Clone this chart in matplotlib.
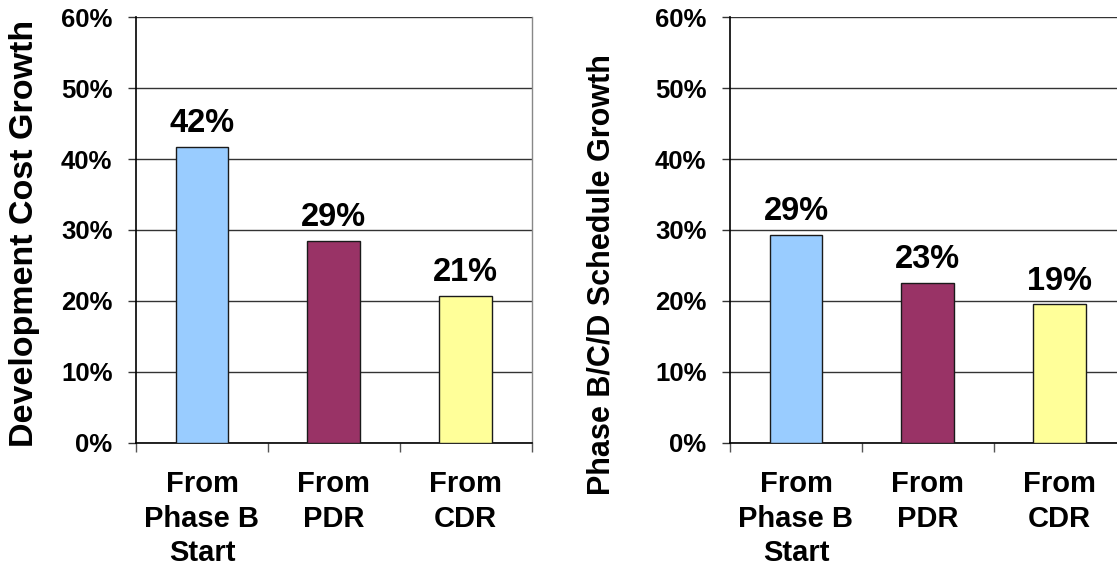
import matplotlib
matplotlib.use("Agg")
import matplotlib.pyplot as plt
import numpy as np

plt.rcParams['font.family'] = ['Liberation Sans', 'DejaVu Sans']
plt.rcParams['font.weight'] = 'bold'

categories = ["From\nPhase B\nStart", "From\nPDR", "From\nCDR"]
cost_growth = [41.7, 28.5, 20.7]
cost_labels = ["42%", "29%", "21%"]
schedule_growth = [29.3, 22.5, 19.5]
schedule_labels = ["29%", "23%", "19%"]
bar_colors = ["#99CCFF", "#993366", "#FFFF99"]
yticks = [0, 10, 20, 30, 40, 50, 60]
ytick_labels = ["0%", "10%", "20%", "30%", "40%", "50%", "60%"]

W, H = 1117, 565
fig = plt.figure(figsize=(W / 100, H / 100), dpi=100)

ax_w = 395.7 / W
ax_h = 425.4 / H
ax_b = 1 - 442.7 / H

axes = [fig.add_axes([136 / W, ax_b, ax_w, ax_h]),
        fig.add_axes([730 / W, ax_b, ax_w, ax_h])]

datasets = [(cost_growth, cost_labels), (schedule_growth, schedule_labels)]

for ax, (vals, labs) in zip(axes, datasets):
    x = np.arange(len(categories))
    ax.set_axisbelow(True)
    ax.bar(x, vals, width=0.4, color=bar_colors, edgecolor="#1a1a1a",
           linewidth=1.0, zorder=3)
    for xi, v, lab in zip(x, vals, labs):
        ax.annotate(lab, (xi, v), xytext=(0, 10.6), textcoords="offset points",
                    ha="center", va="baseline", fontsize=23.5, fontweight="bold")
    ax.set_xlim(-0.5, len(categories) - 0.5)
    ax.set_ylim(0, 60)
    ax.set_yticks(yticks)
    ax.set_yticklabels(ytick_labels, fontsize=18.5, fontweight="bold")
    ax.yaxis.grid(True, color="#333333", linewidth=1.0, zorder=0)
    ax.tick_params(axis="y", length=6, width=1, direction="out", pad=11, color="#333333")
    ax.set_xticks(x)
    ax.set_xticklabels(categories, fontsize=21, fontweight="bold", linespacing=1.28)
    ax.tick_params(axis="x", which="major", length=0, pad=20)
    ax.set_xticks(np.arange(len(categories) + 1) - 0.5, minor=True)
    ax.tick_params(axis="x", which="minor", length=6.5, width=1, direction="out", color="#555555")
    ax.spines["top"].set_visible(False)
    ax.spines["right"].set_color("#888888")
    ax.spines["right"].set_linewidth(1.0)
    ax.spines["left"].set_color("black")
    ax.spines["bottom"].set_color("black")
    ax.spines["left"].set_linewidth(1.2)
    ax.spines["bottom"].set_linewidth(1.2)

fig.text(25 / W, 1 - 233 / H, "Development Cost Growth", rotation=90,
         ha="center", va="center", fontsize=24.5, fontweight="bold")
fig.text(602 / W, 1 - 275 / H, "Phase B/C/D Schedule Growth", rotation=90,
         ha="center", va="center", fontsize=22, fontweight="bold")

fig.savefig("out.png", dpi=100)
